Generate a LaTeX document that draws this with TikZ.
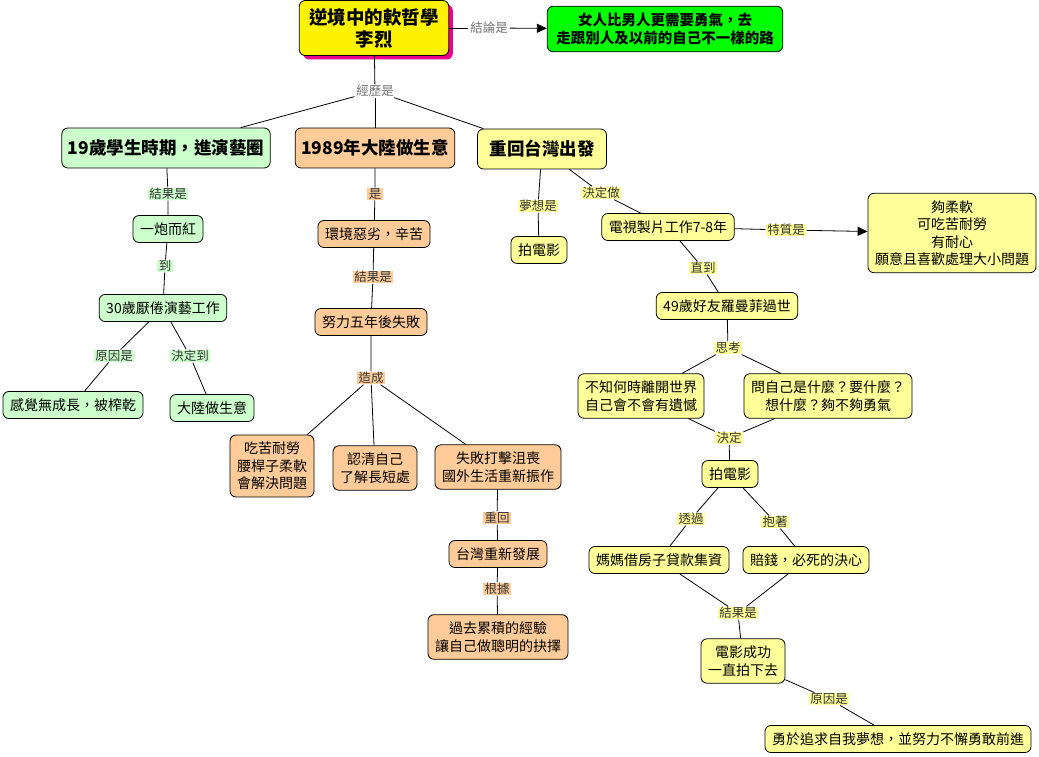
\documentclass[tikz,border=0pt]{standalone}
\usepackage{fontspec}
\setmainfont{Noto Sans CJK TC}
\usetikzlibrary{arrows.meta, shadows}
\definecolor{mint}{RGB}{204,255,204}
\definecolor{peach}{RGB}{255,204,153}
\definecolor{cream}{RGB}{255,255,153}
\tikzstyle{box_node} = [
    rectangle, 
    rounded corners=6pt, 
    draw=black, 
    align=center, 
    inner xsep=7pt, 
    inner ysep=7pt, % one line of text gives about 29pt
    font=\fontsize{14}{17.5}\selectfont
]
\tikzstyle{green_node} = [box_node, fill=mint]
\tikzstyle{peach_node} = [box_node, fill=peach]
\tikzstyle{cream_node} = [box_node, fill=cream]
\tikzstyle{head_node} = [
    font=\bfseries\fontsize{17.5}{21}\selectfont, 
    inner xsep=6pt, 
    minimum height=40pt
]
\tikzstyle{root_node} = [
    box_node, 
    fill=yellow, 
    font=\bfseries\fontsize{18.5}{22}\selectfont, 
    inner xsep=10pt, 
    minimum height=55pt, 
    drop shadow={shadow xshift=4pt, shadow yshift=-4pt, fill=magenta, opacity=1}
]
\tikzstyle{goal_node} = [
    box_node, 
    fill=green, 
    font=\bfseries\fontsize{14.5}{17.5}\selectfont, 
    inner xsep=9pt
]
\tikzstyle{link_label} = [
    inner xsep=1.5pt, 
    inner ysep=0.5pt, 
    text=black!80, 
    font=\fontsize{12.5}{12.5}\selectfont
]
\tikzstyle{plain_link} = [link_label, fill=white, text=black!55]
\tikzstyle{green_link} = [link_label, fill=mint]
\tikzstyle{peach_link} = [link_label, fill=peach]
\tikzstyle{cream_link} = [link_label, fill=cream]
\tikzstyle{arrow_line} = [-{Triangle[length=10pt, width=9pt]}]

\begin{document}
\begin{tikzpicture}[
    x=1pt, y=-1pt, 
    line width=0.8pt
]
\useasboundingbox (0,0) rectangle (1039,757);

% top
\node [root_node] (root) at (374,28) {逆境中的軟哲學\\李烈};
\node [goal_node] (goal) at (665,29) {女人比男人更需要勇氣，去\\走跟別人及以前的自己不一樣的路};
\node [plain_link] (l_goal) at (489,28) {結論是};
\draw (root) -- (l_goal);
\draw [arrow_line] (l_goal) -- (goal);

\node [plain_link] (l_exp) at (375,91) {經歷是};
\draw (root) -- (l_exp);
\node [green_node, head_node] (youth) at (166,148) {19歲學生時期，進演藝圈};
\node [peach_node, head_node] (mainland) at (375,148) {1989年大陸做生意};
\node [cream_node, head_node, minimum width=129pt] (taiwan) at (542,149) {重回台灣出發};
\foreach \n in {youth, mainland, taiwan}
    \draw (l_exp) -- (\n);

% left branch
\node [green_link] (l_y1) at (168,194) {結果是};
\node [green_node] (famous) at (168,229) {一炮而紅};
\node [green_link] (l_y2) at (165,266) {到};
\node [green_node] (tired) at (163,308) {30歲厭倦演藝工作};
\node [green_link] (l_y3) at (114,356) {原因是};
\node [green_link] (l_y4) at (190,356) {決定到};
\node [green_node] (drained) at (73,405) {感覺無成長，被榨乾};
\node [green_node] (business) at (212,408) {大陸做生意};
\draw (youth) -- (l_y1) -- (famous) -- (l_y2) -- (tired);
\draw (tired) -- (l_y3) -- (drained);
\draw (tired) -- (l_y4) -- (business);

% middle branch
\node [peach_link] (l_m1) at (375,194) {是};
\node [peach_node] (harsh) at (374,234) {環境惡劣，辛苦};
\node [peach_link] (l_m2) at (373,277) {結果是};
\node [peach_node] (failed) at (371,322) {努力五年後失敗};
\node [peach_link] (l_m3) at (371,378) {造成};
\node [peach_node] (lesson_a) at (272,466) {吃苦耐勞\\腰桿子柔軟\\會解決問題};
\node [peach_node] (lesson_b) at (375,468) {認清自己\\了解長短處};
\node [peach_node] (lesson_c) at (498,467) {失敗打擊沮喪\\國外生活重新振作};
\node [peach_link] (l_m4) at (497,518) {重回};
\node [peach_node] (restart) at (498,554) {台灣重新發展};
\node [peach_link] (l_m5) at (497,589) {根據};
\node [peach_node] (wisdom) at (498,637) {過去累積的經驗\\讓自己做聰明的抉擇};
\draw (mainland) -- (l_m1) -- (harsh) -- (l_m2) -- (failed) -- (l_m3);
\foreach \n in {lesson_a, lesson_b, lesson_c}
    \draw (l_m3) -- (\n);
\draw (lesson_c) -- (l_m4) -- (restart) -- (l_m5) -- (wisdom);

% right branch
\node [cream_link] (l_r1) at (538,206) {夢想是};
\node [cream_node] (dream) at (539,250) {拍電影};
\node [cream_link] (l_r2) at (601,193) {決定做};
\node [cream_node] (tvwork) at (668,227) {電視製片工作7-8年};
\node [cream_link] (l_r3) at (786,230) {特質是};
\node [cream_node] (traits) at (952,233) {夠柔軟\\可吃苦耐勞\\有耐心\\願意且喜歡處理大小問題};
\node [cream_link] (l_r4) at (703,268) {直到};
\node [cream_node] (friend) at (727,306) {49歲好友羅曼菲過世};
\node [cream_link] (l_r5) at (728,348) {思考};
\node [cream_node] (regret) at (641,396) {不知何時離開世界\\自己會不會有遺憾};
\node [cream_node] (askself) at (828,396) {問自己是什麼？要什麼？\\想什麼？夠不夠勇氣};
\node [cream_link] (l_r6) at (729,438) {決定};
\node [cream_node] (film) at (730,474) {拍電影};
\node [cream_link] (l_r7) at (691,519) {透過};
\node [cream_link] (l_r8) at (775,522) {抱著};
\node [cream_node] (loan) at (659,560) {媽媽借房子貸款集資};
\node [cream_node] (resolve) at (806,560) {賠錢，必死的決心};
\node [cream_link] (l_r9) at (738,613) {結果是};
\node [cream_node] (success) at (743,661) {電影成功\\一直拍下去};
\node [cream_link] (l_r10) at (829,699) {原因是};
\node [cream_node] (brave) at (898,739) {勇於追求自我夢想，並努力不懈勇敢前進};
\draw (taiwan) -- (l_r1) -- (dream);
\draw (taiwan) -- (l_r2) -- (tvwork) -- (l_r3);
\draw [arrow_line] (l_r3) -- (traits);
\draw (tvwork) -- (l_r4) -- (friend) -- (l_r5);
\draw (l_r5) -- (regret) -- (l_r6);
\draw (l_r5) -- (askself) -- (l_r6);
\draw (l_r6) -- (film);
\draw (film) -- (l_r7) -- (loan) -- (l_r9);
\draw (film) -- (l_r8) -- (resolve) -- (l_r9);
\draw (l_r9) -- (success) -- (l_r10) -- (brave);
\end{tikzpicture}
\end{document}
